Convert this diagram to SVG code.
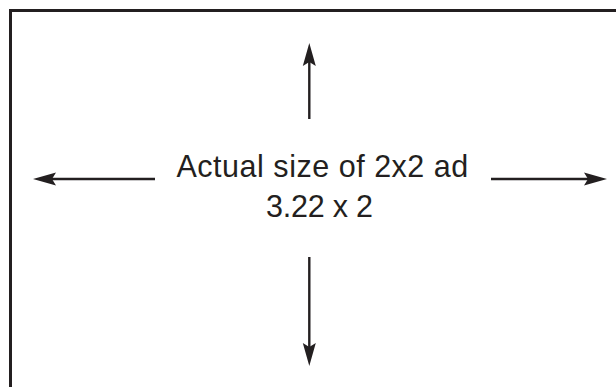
<svg xmlns="http://www.w3.org/2000/svg" width="616" height="387" viewBox="0 0 616 387">
  <style>
    .frame { fill: none; stroke: #231f20; stroke-width: 3; }
    .conn { stroke: #231f20; stroke-width: 2.4; fill: none; }
    .label { font-family: "Liberation Sans", Arial, Helvetica, sans-serif; font-size: 30.5px; fill: #231f20; }
  </style>
  <defs>
    <marker id="head" markerUnits="userSpaceOnUse" viewBox="-5 -8 25 16" markerWidth="25" markerHeight="16" refX="0" refY="0" orient="auto">
      <path d="M19,0 L-4,-6.5 L0,0 L-4,6.5 Z" fill="#231f20"/>
    </marker>
  </defs>
  <rect width="616" height="387" fill="#ffffff"/>
  <g id="frame">
    <rect class="frame" x="10.5" y="10.5" width="620" height="400"/>
  </g>
  <g id="label">
    <text class="label" x="176.5" y="177.3" textLength="291.8" lengthAdjust="spacing">Actual size of 2x2 ad</text>
    <text class="label" x="266" y="216.7" textLength="107" lengthAdjust="spacing">3.22 x 2</text>
  </g>
  <g id="connectors">
    <line class="conn" x1="155" y1="179" x2="52" y2="179" marker-end="url(#head)"/>
    <line class="conn" x1="491" y1="179" x2="588" y2="179" marker-end="url(#head)"/>
    <line class="conn" x1="309.3" y1="119" x2="309.3" y2="62" marker-end="url(#head)"/>
    <line class="conn" x1="309.3" y1="257" x2="309.3" y2="347" marker-end="url(#head)"/>
  </g>
</svg>
